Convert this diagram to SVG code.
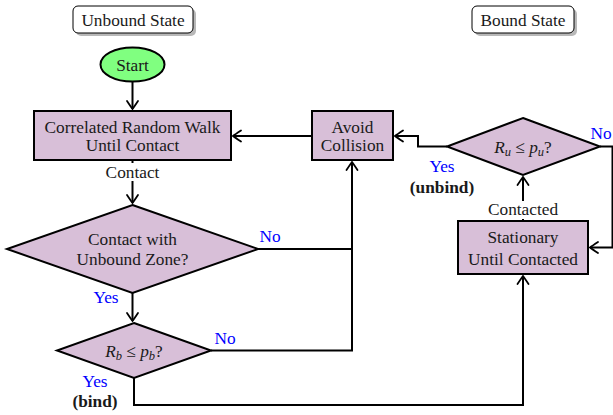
<svg xmlns="http://www.w3.org/2000/svg" width="613" height="415" viewBox="0 0 613 415" font-family="'Liberation Serif','Times New Roman',serif">
<style>
text{font-family:"Liberation Serif","Times New Roman",serif;font-size:17.3px;fill:#1a1a1a;text-anchor:middle}
.node{fill:#d8bfd8;stroke:#000;stroke-width:2}
.lbl{fill:#0000ff}
.b{font-weight:bold}
.m{font-style:italic}
.sub{font-style:italic;font-size:12.5px}
.edge{fill:none;stroke:#000;stroke-width:2}
.tag{fill:#fff;stroke:#000;stroke-width:1}
.shadow{fill:#888;opacity:0.6}
</style>
<defs>
<marker id="arr" markerUnits="userSpaceOnUse" markerWidth="14" markerHeight="14" refX="0" refY="0" viewBox="-9 -7 11 14" orient="auto" overflow="visible">
<path d="M-8,-5.5 Q-2,-1.5 0,0 Q-2,1.5 -8,5.5" fill="none" stroke="#000" stroke-width="1.8" stroke-linecap="round"/>
</marker>
</defs>
<g id="unbound-tag">
<rect class="shadow" x="76" y="9" width="120" height="27" rx="5"/>
<rect class="tag" x="73" y="6" width="120" height="27" rx="5"/>
<text x="133" y="26">Unbound State</text>
</g>
<g id="bound-tag">
<rect class="shadow" x="475" y="9" width="102" height="27" rx="5"/>
<rect class="tag" x="472" y="6" width="102" height="27" rx="5"/>
<text x="523" y="26">Bound State</text>
</g>
<g id="start">
<ellipse cx="132.5" cy="64.5" rx="32" ry="17" fill="#80ff80" stroke="#000" stroke-width="2"/>
<text x="132.5" y="70.5">Start</text>
</g>
<g id="crw">
<rect class="node" x="34" y="111" width="197" height="49"/>
<text x="132.5" y="133">Correlated Random Walk</text>
<text x="132.5" y="151">Until Contact</text>
</g>
<g id="avoid">
<rect class="node" x="312" y="111" width="81" height="49"/>
<text x="352.5" y="133">Avoid</text>
<text x="352.5" y="151">Collision</text>
</g>
<g id="contact-zone">
<polygon class="node" points="132.5,205 258,249 132.5,293 7,249"/>
<text x="132.5" y="245">Contact with</text>
<text x="132.5" y="265">Unbound Zone?</text>
</g>
<g id="bind-test">
<polygon class="node" points="134,323 211,350.5 134,378 57,350.5"/>
<text x="134" y="356.5"><tspan class="m">R</tspan><tspan class="sub" dy="3">b</tspan><tspan dy="-3"> ≤ </tspan><tspan class="m">p</tspan><tspan class="sub" dy="3">b</tspan><tspan dy="-3">?</tspan></text>
</g>
<g id="stationary">
<rect class="node" x="458" y="221" width="130" height="53"/>
<text x="523" y="243">Stationary</text>
<text x="523" y="265">Until Contacted</text>
</g>
<g id="unbind-test">
<polygon class="node" points="523,118 600,146.5 523,175 447,146.5"/>
<text x="523" y="153"><tspan class="m">R</tspan><tspan class="sub" dy="3">u</tspan><tspan dy="-3"> ≤ </tspan><tspan class="m">p</tspan><tspan class="sub" dy="3">u</tspan><tspan dy="-3">?</tspan></text>
</g>
<g id="connectors">
<path class="edge" d="M132.5,82 V109" marker-end="url(#arr)"/>
<path class="edge" d="M132.5,160 V203" marker-end="url(#arr)"/>
<path class="edge" d="M312,136 H233" marker-end="url(#arr)"/>
<path class="edge" d="M258,249 H352 V162" marker-end="url(#arr)"/>
<path class="edge" d="M211,350.5 H352 V249"/>
<path class="edge" d="M132.5,293 V321" marker-end="url(#arr)"/>
<path class="edge" d="M134,378 V405 H523 V276" marker-end="url(#arr)"/>
<path class="edge" d="M523,221 V177" marker-end="url(#arr)"/>
<path class="edge" d="M447,146.5 H418 V136 H395" marker-end="url(#arr)"/>
<path class="edge" d="M600,146.5 H612.5 V247.5 H590" marker-end="url(#arr)"/>
<rect x="104" y="163" width="57" height="18" fill="#fff"/>
<text x="132.5" y="178">Contact</text>
<rect x="487" y="201" width="72" height="18" fill="#fff"/>
<text x="523" y="215">Contacted</text>
<text class="lbl" x="270" y="242">No</text>
<text class="lbl" x="225" y="344">No</text>
<text class="lbl" x="601" y="139">No</text>
<text class="lbl" x="106" y="303">Yes</text>
<text class="lbl" x="95" y="387">Yes</text>
<text class="b" x="95" y="407">(bind)</text>
<text class="lbl" x="442" y="172">Yes</text>
<text class="b" x="442" y="193">(unbind)</text>
</g>
</svg>
